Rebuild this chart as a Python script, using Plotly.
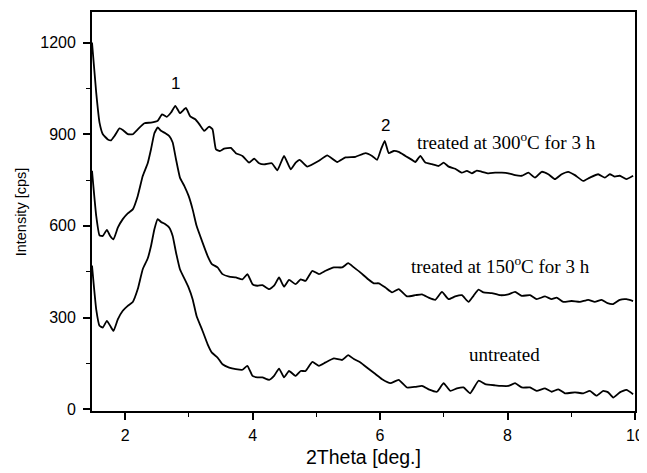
import plotly.graph_objects as go

# ---- data ----
x_300 = [1.48, 1.546, 1.598, 1.650, 1.728, 1.780, 1.833, 1.911, 1.963, 2.041, 2.120, 2.198, 2.302, 2.406,
         2.511, 2.579, 2.652, 2.720, 2.787, 2.860, 2.954, 3.022, 3.100, 3.163, 3.241, 3.319, 3.371, 3.424,
         3.486, 3.554, 3.659, 3.737, 3.841, 3.945, 4.024, 4.102, 4.180, 4.300, 4.389, 4.493, 4.598, 4.676,
         4.738, 4.858, 5.041, 5.171, 5.328, 5.458, 5.614, 5.771, 5.875, 5.953, 6.016, 6.073, 6.136, 6.214,
         6.292, 6.397, 6.501, 6.553, 6.632, 6.710, 6.814, 6.919, 6.997, 7.075, 7.179, 7.284, 7.362, 7.440,
         7.518, 7.597, 7.701, 7.805, 7.910, 8.014, 8.118, 8.223, 8.327, 8.431, 8.536, 8.640, 8.744, 8.849,
         8.953, 9.057, 9.188, 9.292, 9.422, 9.527, 9.605, 9.683, 9.761, 9.865, 9.970]
y_300 = [1200, 1036, 938, 900, 883, 880, 894, 919, 914, 900, 900, 916, 936, 938,
         944, 965, 957, 971, 993, 969, 986, 958, 949, 933, 911, 925, 916, 851,
         845, 853, 855, 838, 829, 807, 820, 805, 801, 805, 782, 829, 785, 807,
         816, 794, 813, 831, 809, 824, 826, 838, 829, 816, 851, 878, 838, 845,
         842, 829, 816, 809, 829, 807, 802, 796, 807, 794, 787, 774, 780, 772,
         781, 777, 772, 774, 774, 772, 766, 764, 774, 758, 777, 769, 753, 769,
         777, 766, 747, 758, 769, 758, 769, 761, 764, 753, 764]

x_150 = [1.48, 1.546, 1.598, 1.650, 1.713, 1.765, 1.817, 1.885, 1.963, 2.041, 2.120, 2.198, 2.276, 2.354,
         2.406, 2.459, 2.511, 2.563, 2.631, 2.693, 2.746, 2.798, 2.860, 2.928, 2.996, 3.059, 3.121, 3.215,
         3.293, 3.361, 3.450, 3.528, 3.632, 3.737, 3.841, 3.919, 3.998, 4.076, 4.154, 4.259, 4.337, 4.415,
         4.493, 4.572, 4.676, 4.754, 4.832, 4.937, 5.041, 5.145, 5.276, 5.406, 5.500, 5.589, 5.693, 5.813,
         5.901, 5.980, 6.084, 6.188, 6.292, 6.423, 6.553, 6.658, 6.762, 6.866, 6.971, 7.075, 7.179, 7.284,
         7.388, 7.466, 7.544, 7.623, 7.753, 7.884, 8.014, 8.118, 8.223, 8.353, 8.457, 8.588, 8.692, 8.770,
         8.875, 9.005, 9.136, 9.266, 9.370, 9.475, 9.568, 9.657, 9.761, 9.866, 9.970]
y_150 = [780, 633, 569, 567, 587, 567, 556, 594, 622, 641, 654, 698, 763, 805,
         851, 903, 922, 911, 903, 894, 873, 818, 758, 731, 698, 654, 600, 545,
         502, 475, 464, 442, 434, 431, 425, 442, 409, 404, 406, 393, 404, 431,
         401, 423, 409, 425, 420, 453, 442, 453, 464, 464, 478, 464, 447, 425,
         412, 412, 398, 382, 393, 369, 373, 376, 365, 358, 384, 360, 369, 373,
         351, 371, 391, 382, 380, 373, 376, 384, 371, 373, 360, 369, 360, 365,
         351, 354, 351, 358, 351, 358, 347, 344, 358, 360, 354]

x_untr = [1.48, 1.546, 1.598, 1.650, 1.713, 1.765, 1.817, 1.885, 1.963, 2.041, 2.120, 2.198, 2.276, 2.354,
          2.406, 2.459, 2.511, 2.563, 2.631, 2.693, 2.746, 2.798, 2.860, 2.928, 2.996, 3.059, 3.121, 3.215,
          3.293, 3.361, 3.450, 3.528, 3.632, 3.737, 3.841, 3.919, 3.998, 4.076, 4.154, 4.259, 4.337, 4.415,
          4.493, 4.572, 4.676, 4.754, 4.832, 4.937, 5.041, 5.145, 5.276, 5.406, 5.500, 5.589, 5.693, 5.813,
          5.927, 6.032, 6.162, 6.292, 6.423, 6.553, 6.658, 6.762, 6.892, 6.997, 7.101, 7.206, 7.310, 7.414,
          7.545, 7.649, 7.805, 7.910, 8.014, 8.118, 8.223, 8.353, 8.457, 8.588, 8.692, 8.797, 8.901, 9.058,
          9.188, 9.292, 9.397, 9.501, 9.579, 9.658, 9.762, 9.866, 9.970]
y_untr = [470, 327, 273, 267, 289, 273, 256, 294, 322, 338, 351, 393, 458, 493,
          534, 589, 622, 613, 605, 594, 567, 513, 458, 428, 398, 360, 305, 256,
          213, 185, 169, 147, 136, 131, 129, 142, 109, 104, 104, 96, 109, 133,
          104, 125, 109, 125, 125, 155, 142, 153, 166, 161, 177, 164, 153, 133,
          115, 98, 85, 96, 71, 73, 76, 65, 57, 85, 60, 68, 71, 52,
          93, 82, 78, 76, 76, 85, 71, 71, 60, 68, 57, 65, 52, 55,
          52, 60, 44, 60, 55, 38, 55, 63, 49]

labels = ["treated at 300<sup>o</sup>C for 3 h", "treated at 150<sup>o</sup>C for 3 h", "untreated"]
label_x = [7.98, 7.89, 7.96]
label_y = [877, 471, 178]
peak_names = ["1", "2"]
peak_x = [2.79, 6.08]
peak_y = [1067, 929]

x_ticks = [2, 4, 6, 8, 10]
y_ticks = [0, 300, 600, 900, 1200]

fig = go.Figure()
for xs, ys in [(x_300, y_300), (x_150, y_150), (x_untr, y_untr)]:
    fig.add_trace(go.Scatter(x=xs, y=ys, mode="lines",
                             line=dict(color="black", width=1.8, shape="spline", smoothing=0.4),
                             showlegend=False, hoverinfo="skip"))

for t, xx, yy in zip(labels, label_x, label_y):
    fig.add_annotation(x=xx, y=yy, text=t, showarrow=False,
                       font=dict(family="Liberation Serif", size=19, color="black"))
for t, xx, yy in zip(peak_names, peak_x, peak_y):
    fig.add_annotation(x=xx, y=yy, text=t, showarrow=False,
                       font=dict(family="Liberation Sans", size=17, color="black"))

# axis titles
fig.add_annotation(xref="paper", yref="paper", x=0.5, y=-0.115, yanchor="middle",
                   text="2Theta [deg.]", showarrow=False,
                   font=dict(family="Liberation Sans", size=19.5, color="black"))
fig.add_annotation(xref="paper", yref="paper", x=-0.131, xanchor="center", y=0.5,
                   text="Intensity [cps]", showarrow=False, textangle=-90,
                   font=dict(family="Liberation Sans", size=14.5, color="black"))

# page body adds an 8px margin, so the figure is sized to end at the window edge
fig.update_layout(
    width=639, height=465,
    margin=dict(l=84, r=12, t=4, b=62),
    paper_bgcolor="white", plot_bgcolor="white",
    font=dict(family="Liberation Sans", size=16, color="black"),
)
fig.update_xaxes(
    range=[1.48, 10], tickvals=x_ticks, ticktext=[str(v) for v in x_ticks],
    showgrid=False, zeroline=False, automargin=False,
    showline=True, linecolor="black", linewidth=1.8, mirror=True,
    ticks="outside", ticklen=7, tickwidth=1.6, tickcolor="black",
    minor=dict(dtick=1, tick0=1, ticks="outside", ticklen=4, tickwidth=1.4, tickcolor="black"),
    tickfont=dict(size=16), ticklabelstandoff=2,
)
fig.update_yaxes(
    range=[-6, 1300], tickvals=y_ticks, ticktext=[str(v) for v in y_ticks],
    showgrid=False, zeroline=False, automargin=False,
    showline=True, linecolor="black", linewidth=1.8, mirror=True,
    ticks="outside", ticklen=7, tickwidth=1.6, tickcolor="black",
    minor=dict(dtick=150, tick0=0, ticks="outside", ticklen=4, tickwidth=1.4, tickcolor="black"),
    tickfont=dict(size=16), ticklabelstandoff=4,
)

fig.write_html("out.html")
